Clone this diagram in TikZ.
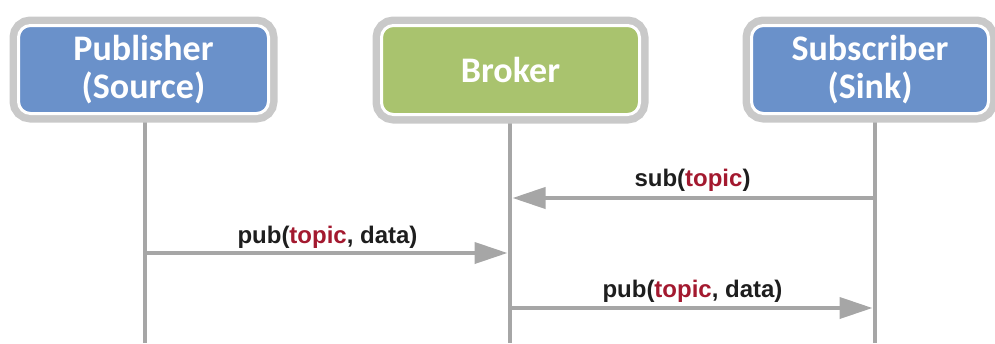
\documentclass[tikz,border=0pt]{standalone}
\usepackage{fontspec}
\setmainfont{Liberation Sans}
\newfontfamily\boxfont{Carlito}
\usetikzlibrary{arrows.meta}
\definecolor{pubblue}{HTML}{6A91CA}
\definecolor{brokgreen}{HTML}{A9C36E}
\definecolor{rimgray}{HTML}{C9C9C9}
\definecolor{linegray}{HTML}{A6A6A6}
\definecolor{topicred}{HTML}{A3192F}
\definecolor{labelblack}{HTML}{1E1E1E}
\tikzset{
  actor/.style={rectangle, rounded corners=12pt, draw=white, line width=3pt,
    preaction={draw=rimgray, line width=18pt},
    text=white, align=center, inner sep=0pt,
    font=\boxfont\bfseries\fontsize{36}{38}\selectfont},
  life/.style={draw=linegray, line width=4.5pt},
  msg/.style={draw=linegray, line width=4pt, shorten >=2.5pt,
    -{Triangle[length=33pt,width=21pt]}},
  lbl/.style={anchor=base, text=labelblack, inner sep=0pt,
    font=\bfseries\fontsize{24}{28}\selectfont},
}
\newcommand{\tpc}{\textcolor{topicred}{topic}}
\begin{document}
\begin{tikzpicture}[x=1pt,y=-1pt]
\useasboundingbox (0,0) rectangle (995,343);
% lifeline ends
\coordinate (pend) at (145,343);
\coordinate (bend) at (510,343);
\coordinate (send) at (875,343);
% lifelines
\coordinate (ptop) at (145,110);
\coordinate (btop) at (510,110);
\coordinate (stop) at (875,110);
\draw[life] (ptop) -- (pend);
\draw[life] (btop) -- (bend);
\draw[life] (stop) -- (send);
% boxes
\node[actor, fill=pubblue, minimum width=250pt, minimum height=88pt] (pub) at (143.5,69.5) {Publisher\\(Source)};
\node[actor, fill=brokgreen, minimum width=258pt, minimum height=89pt] (brok) at (510.5,70) {Broker};
\node[actor, fill=pubblue, minimum width=237pt, minimum height=88pt] (sub) at (870,69.5) {Subscriber\\(Sink)};
% message points
\coordinate (s1) at (875,198);
\coordinate (b1) at (510,198);
\coordinate (p2) at (145,253);
\coordinate (b2) at (510,253);
\coordinate (b3) at (510,308);
\coordinate (s3) at (875,308);
\draw[msg] (s1) -- node[lbl, yshift=12pt] {sub(\tpc)} (b1);
\draw[msg] (p2) -- node[lbl, yshift=10pt] {pub(\tpc, data)} (b2);
\draw[msg] (b3) -- node[lbl, yshift=11pt] {pub(\tpc, data)} (s3);
\end{tikzpicture}
\end{document}
